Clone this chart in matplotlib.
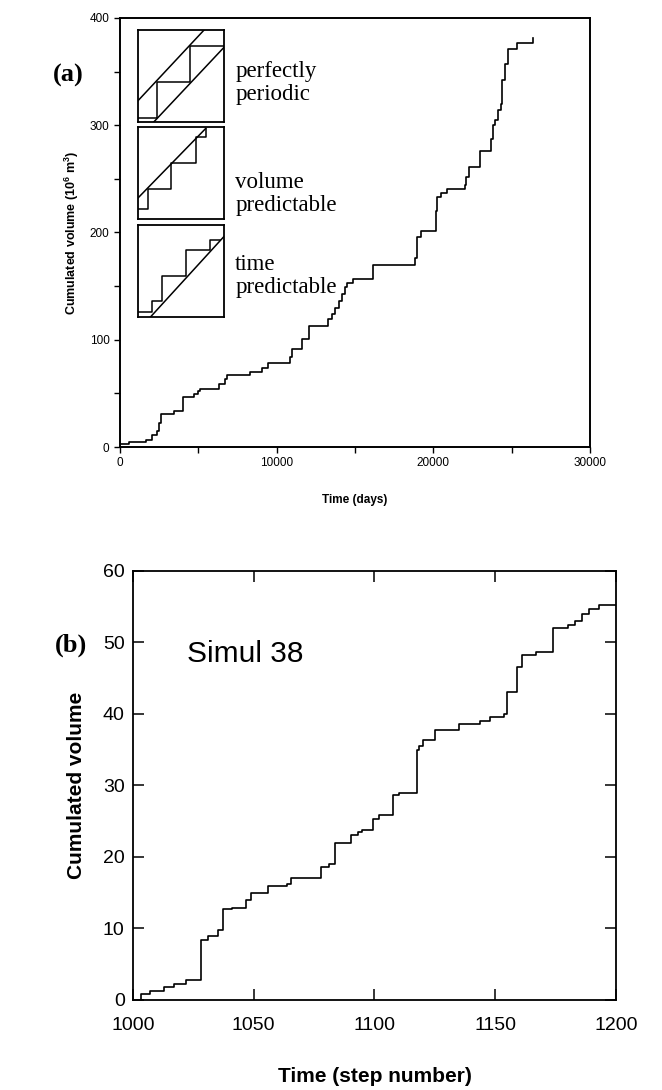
import matplotlib
matplotlib.use("Agg")
import matplotlib.pyplot as plt

plt.rcParams['font.family'] = ['Liberation Sans', 'DejaVu Sans']
plt.rcParams['mathtext.fontset'] = 'custom'
plt.rcParams['mathtext.rm'] = 'Liberation Sans'
plt.rcParams['mathtext.bf'] = 'Liberation Sans:bold'

# ---- data panel (a): cumulated erupted volume, step after each event
days = [0, 600, 1650, 2070, 2330, 2460, 2600, 3450, 4000, 4750, 4950, 5100,
        6300, 6700, 6800, 8300, 9050, 9450, 10850, 10950, 11600, 12050,
        13300, 13550, 13750, 14000, 14200, 14350, 14500, 14900, 16150,
        18850, 18950, 19200, 20150, 20250, 20500, 20850, 22000, 22100,
        22250, 23000, 23650, 23800, 23950, 24150, 24300, 24400, 24550,
        24750, 25350, 26350]
volume = [3, 5, 7, 11, 15, 22, 31, 34, 47, 49, 52, 54,
          59, 63, 67, 70, 74, 78, 84, 91, 101, 113,
          119, 124, 130, 136, 143, 149, 153, 157, 170,
          176, 196, 201, 220, 233, 237, 241, 244, 252,
          261, 276, 287, 300, 305, 314, 320, 342, 357,
          371, 377, 381]

# ---- data panel (b): simulation 38
steps = [1003.3, 1003.3, 1007, 1013, 1017, 1022, 1028, 1031, 1035, 1037.4,
         1041, 1047, 1049, 1056, 1063.6, 1065.5, 1078, 1081, 1083.6, 1090.4,
         1093, 1095, 1099.3, 1102, 1107.6, 1110, 1117.6, 1118.5, 1120,
         1125, 1135, 1143.6, 1148, 1153.6, 1155, 1159, 1161, 1167, 1174,
         1180, 1183, 1186, 1189, 1193, 1200]
sim_volume = [0, 0.8, 1.3, 1.8, 2.2, 2.8, 8.4, 8.9, 9.8, 12.7,
              12.9, 14.0, 15.0, 15.9, 16.2, 17.0, 18.6, 19.0, 21.9, 23.1,
              23.5, 23.8, 25.3, 25.8, 28.7, 28.9, 34.9, 35.5, 36.4,
              37.7, 38.6, 39.0, 39.6, 40.0, 43.0, 46.5, 48.3, 48.7, 52.0,
              52.4, 53.0, 54.0, 54.7, 55.2, 55.2]

# ---- sketches of the three recurrence models (unit box coordinates)
periodic_x = [0, 0.224, 0.224, 0.606, 0.606, 1.0]
periodic_y = [0.047, 0.047, 0.433, 0.433, 0.83, 0.83]
periodic_upper = ([0, 0.77], [0.23, 1.0])
periodic_lower = ([0.185, 1.0], [0, 0.81])

vol_x = [0, 0.118, 0.118, 0.382, 0.382, 0.677, 0.677, 0.787, 0.787]
vol_y = [0.108, 0.108, 0.324, 0.324, 0.612, 0.612, 0.892, 0.892, 0.975]
vol_line = ([0, 0.79], [0.227, 0.985])

time_x = [0, 0.167, 0.167, 0.283, 0.283, 0.554, 0.554, 0.833, 0.833, 0.96]
time_y = [0.054, 0.054, 0.17, 0.17, 0.444, 0.444, 0.733, 0.733, 0.838, 0.838]
time_line = ([0.146, 1.0], [0.0, 0.874])

fig = plt.figure(figsize=(6.62, 10.9), dpi=100)

# panel (a)
ax = fig.add_axes([0.1813, 0.5899, 0.71, 0.3936])
ax.step(days, volume, where='post', color='black', lw=1.2)
ax.set_xlim(0, 30000)
ax.set_ylim(0, 400)
ax.set_xticks([0, 10000, 20000, 30000])
ax.set_xticks([5000, 15000, 25000], minor=True)
ax.set_yticks([0, 100, 200, 300, 400])
ax.set_yticks([50, 150, 250, 350], minor=True)
ax.tick_params(which='both', direction='out', length=4, width=1, labelsize=8.5,
               top=False, right=False)
for sp in ax.spines.values():
    sp.set_linewidth(1.4)
ax.set_xlabel('Time (days)', fontsize=8.5, fontweight='bold', labelpad=18)
ax.set_ylabel(r'Cumulated volume (10$^\mathbf{6}$ m$^\mathbf{3}$)', fontsize=9,
              fontweight='bold', labelpad=6)

sketches = [
    (0.7576, [(periodic_x, periodic_y), periodic_upper, periodic_lower], 'perfectly\nperiodic', 0.848),
    (0.5315, [(vol_x, vol_y), vol_line], 'volume\npredictable', 0.59),
    (0.303, [(time_x, time_y), time_line], 'time\npredictable', 0.399),
]
for bottom, lines, label, ytext in sketches:
    ins = ax.inset_axes([0.038, bottom, 0.183, 0.2145])
    for xs, ys in lines:
        ins.plot(xs, ys, color='black', lw=1.1)
    ins.set_xlim(0, 1)
    ins.set_ylim(0, 1)
    ins.set_xticks([])
    ins.set_yticks([])
    for sp in ins.spines.values():
        sp.set_linewidth(1.3)
    ax.text(0.245, ytext, label, transform=ax.transAxes, family='Liberation Serif',
            fontsize=16.5, va='center', ha='left', linespacing=1.15)

fig.text(0.103, 0.931, '(a)', family='Liberation Serif', fontweight='bold',
         fontsize=19, ha='center', va='center')

# panel (b)
bx = fig.add_axes([0.2009, 0.0826, 0.7296, 0.3936])
bx.step(steps, sim_volume, where='post', color='black', lw=1.2)
bx.set_xlim(1000, 1200)
bx.set_ylim(0, 60)
bx.set_xticks([1000, 1050, 1100, 1150, 1200])
bx.set_yticks([0, 10, 20, 30, 40, 50, 60])
bx.tick_params(direction='in', length=8, width=1.1, labelsize=14,
               top=True, right=True, pad=6)
bx.tick_params(axis='x', pad=12)
for sp in bx.spines.values():
    sp.set_linewidth(1.3)
bx.set_xlabel('Time (step number)', fontsize=15, fontweight='bold', labelpad=24)
bx.set_ylabel('Cumulated volume', fontsize=15, fontweight='bold', labelpad=12)
bx.text(0.111, 0.807, 'Simul 38', transform=bx.transAxes, fontsize=21.5,
        ha='left', va='center')

fig.text(0.107, 0.408, '(b)', family='Liberation Serif', fontweight='bold',
         fontsize=19, ha='center', va='center')

fig.savefig('out.png', dpi=100)
